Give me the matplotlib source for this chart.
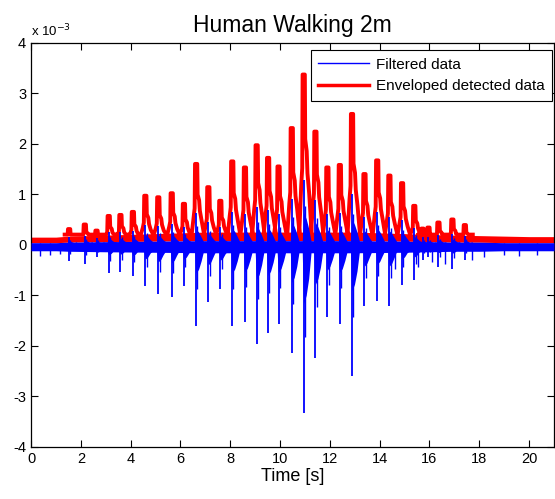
import numpy as np
import matplotlib
matplotlib.use("Agg")
import matplotlib.pyplot as plt

plt.rcParams['font.family'] = ['Liberation Sans', 'DejaVu Sans']
plt.rcParams['axes.unicode_minus'] = False

# all amplitudes in units of 1e-3 (as labelled on the axis)
step_t = [1.53, 2.16, 2.63, 3.12, 3.59, 4.09, 4.59, 5.11, 5.65, 6.14, 6.63, 7.12,
          7.60, 8.08, 8.59, 9.06, 9.52, 9.94, 10.47, 10.95, 11.42, 11.90, 12.40,
          12.89, 13.39, 13.90, 14.39, 14.90, 15.39, 15.72, 15.96, 16.36, 16.92, 17.42]
red_peak = [0.31, 0.40, 0.28, 0.57, 0.59, 0.65, 0.97, 0.94, 1.02, 0.81, 1.60, 1.14,
            0.87, 1.65, 1.53, 1.97, 1.72, 1.55, 2.31, 3.37, 2.24, 1.53, 1.58,
            2.59, 1.40, 1.67, 1.37, 1.22, 0.77, 0.32, 0.34, 0.44, 0.50, 0.39]
blue_low = [-0.32, -0.38, -0.25, -0.57, -0.54, -0.62, -0.81, -0.97, -1.03, -0.81, -1.61, -1.14,
            -0.88, -1.60, -1.54, -1.97, -1.74, -1.57, -2.15, -3.33, -2.24, -1.44, -1.57,
            -2.60, -1.21, -1.11, -1.21, -0.80, -0.70, -0.30, -0.25, -0.45, -0.48, -0.30]
blue_high = [0.15, 0.18, 0.14, 0.25, 0.25, 0.28, 0.40, 0.38, 0.42, 0.35, 0.62, 0.45,
             0.36, 0.65, 0.60, 0.75, 0.68, 0.60, 0.90, 1.28, 0.88, 0.60, 0.62,
             1.00, 0.55, 0.65, 0.55, 0.48, 0.33, 0.15, 0.16, 0.20, 0.22, 0.18]

# smaller blue dips between the steps
extra_t = [0.35, 0.75, 1.15, 14.63, 15.55, 16.10, 16.62, 17.70, 18.20, 19.00, 19.60, 20.30]
extra_low = [-0.22, -0.20, -0.18, -0.48, -0.45, -0.35, -0.38, -0.30, -0.24, -0.20, -0.22, -0.20]

# noise floor of both traces
band_t = [0, 1.0, 1.5, 3, 5, 7, 9, 11, 13, 15, 16, 17, 18, 19, 20, 21]
red_lo = [0.04, 0.04, 0.05, 0.06, 0.07, 0.08, 0.08, 0.08, 0.08, 0.07, 0.06, 0.05, 0.05, 0.04, 0.04, 0.04]
red_hi = [0.15, 0.15, 0.17, 0.19, 0.22, 0.25, 0.25, 0.25, 0.25, 0.22, 0.20, 0.19, 0.18, 0.17, 0.16, 0.16]
blue_hi = [0.04, 0.04, 0.05, 0.06, 0.07, 0.08, 0.08, 0.08, 0.08, 0.07, 0.06, 0.05, 0.05, 0.04, 0.04, 0.04]
blue_lo = [-0.12, -0.12, -0.13, -0.14, -0.15, -0.16, -0.16, -0.16, -0.16, -0.15, -0.14, -0.13, -0.13, -0.12, -0.12, -0.12]

RED = '#ff0000'
BLUE = '#0000ff'

fig = plt.figure(figsize=(5.55, 4.99), dpi=100)
ax = fig.add_axes([0.0559, 0.1048, 0.9423, 0.8096])

# envelope shape around each step
floor = 0.2
rx, ry = [], []
for t, p in zip(step_t, red_peak):
    offs = [-0.18, -0.10, -0.06, -0.045, 0.045, 0.06, 0.12, 0.15, 0.22, 0.32]
    fr = [0, 0.35, 0.45, 1, 1, 0.62, 0.55, 0.42, 0.3, 0]
    for o, f in zip(offs, fr):
        rx.append(t + o)
        ry.append(max(floor, f * p))

ax.fill_between(band_t, red_lo, red_hi, color=RED, lw=0, zorder=2)
ax.plot(rx, ry, color=RED, lw=2.8, zorder=2, label='Enveloped detected data')

# filtered data
ax.fill_between(band_t, blue_lo, blue_hi, color=BLUE, lw=0, zorder=3)
for t, lo, hi in zip(step_t, blue_low, blue_high):
    bt = [t - 0.06, t - 0.02, t, t + 0.1, t + 0.2, t + 0.3]
    ax.fill_between(bt, [-0.12, 0.3 * lo, 0.35 * lo, 0.3 * lo, 0.2 * lo, -0.12],
                    [0.06, 0.3 * hi, 0.5 * hi, 0.4 * hi, 0.25 * hi, 0.06],
                    color=BLUE, lw=0, zorder=3)
    ax.vlines(t + 0.05, 0.55 * lo, 0.6 * hi, color=BLUE, lw=1.0, zorder=3)
ax.vlines(step_t, blue_low, blue_high, color=BLUE, lw=1.3, zorder=3)
ax.vlines(extra_t, extra_low, 0.04, color=BLUE, lw=1.0, zorder=3)
ax.plot([], [], color=BLUE, lw=1.0, label='Filtered data')

ax.set_xlim(0, 21)
ax.set_ylim(-4, 4)
ax.set_xticks(np.arange(0, 21, 2))
ax.set_yticks(np.arange(-4, 5, 1))
ax.tick_params(direction='in', top=True, right=True, length=5, labelsize=10.5, width=0.8)
for s in ax.spines.values():
    s.set_linewidth(0.9)

ax.text(0.0, 1.008, r'x 10$^{-3}$', transform=ax.transAxes, fontsize=9.5, va='bottom', ha='left')
ax.set_title('Human Walking 2m', fontsize=16.5, pad=8)
ax.set_xlabel('Time [s]', fontsize=13, labelpad=2)

h, l = ax.get_legend_handles_labels()
leg = ax.legend([h[1], h[0]], [l[1], l[0]], loc='upper right', bbox_to_anchor=(0.996, 0.982),
                borderaxespad=0, fontsize=11, handlelength=3.3, handletextpad=0.45, fancybox=False,
                edgecolor='black', framealpha=1, borderpad=0.5, labelspacing=0.5)
leg.get_frame().set_linewidth(0.8)
leg.get_lines()[1].set_linewidth(2.5)

fig.savefig('out.png', dpi=100)
